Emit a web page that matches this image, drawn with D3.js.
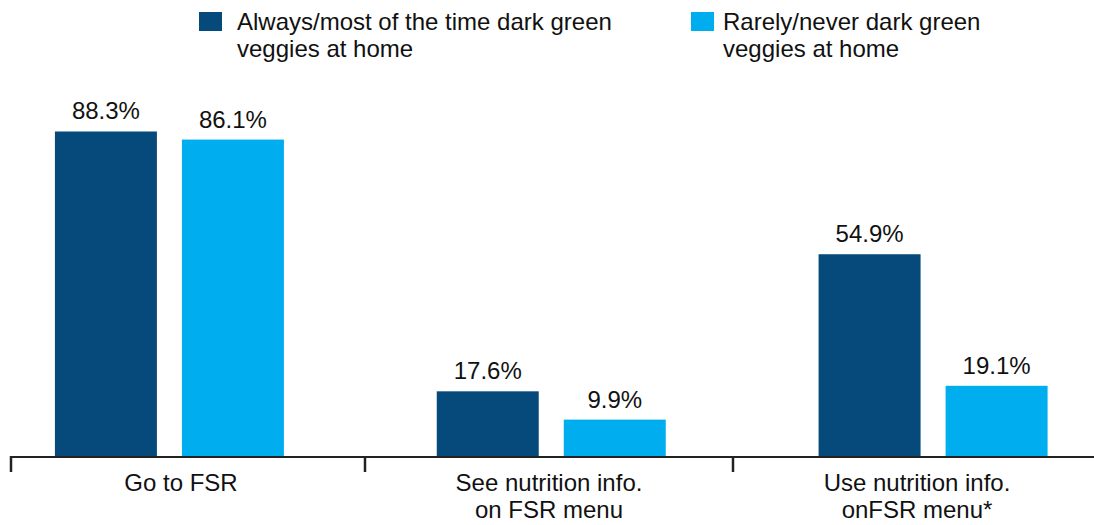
<!DOCTYPE html>
<html><head><meta charset="utf-8">
<script src="https://cdn.jsdelivr.net/npm/d3@7"></script>
<style>
html,body{margin:0;padding:0;background:#fff;}
text{font-family:"Liberation Sans",Arial,Helvetica,sans-serif;fill:#111;}
</style></head>
<body><svg id="c" width="1094" height="525"></svg>
<script>
const categories = [["Go to FSR"], ["See nutrition info.", "on FSR menu"], ["Use nutrition info.", "onFSR menu*"]];
const seriesNames = [["Always/most of the time dark green", "veggies at home"], ["Rarely/never dark green", "veggies at home"]];
const alwaysValues = [88.3, 17.6, 54.9];
const rarelyValues = [86.1, 9.9, 19.1];
const colors = ["#054a7b", "#00aeef"];

const svg = d3.select("#c");
const keys = categories.map((d, i) => "c" + i);
const x = d3.scaleBand().domain(keys).range([-21.5, 1124]).paddingInner(0).paddingOuter(0);
const xInner = d3.scaleBand().domain([0, 1]).range([x.bandwidth()/2 - 114.5, x.bandwidth()/2 + 114.5]).paddingInner(0.197).paddingOuter(0);
const y = d3.scaleLinear().domain([0, 100]).range([456, 88.5]);
const xAxisScale = d3.scaleBand().domain(keys).range([-3, 1101]);
const axisStart = 11;

const data = keys.map((k, i) => ({k, vals: [alwaysValues[i], rarelyValues[i]]}));
const g = svg.selectAll("g.grp").data(data).join("g").attr("class", "grp")
  .attr("transform", d => `translate(${x(d.k)},0)`);
g.selectAll("rect").data(d => d.vals.map((v, j) => ({v, j}))).join("rect")
  .attr("x", d => xInner(d.j)).attr("width", xInner.bandwidth())
  .attr("y", d => y(d.v)).attr("height", d => y(0) - y(d.v))
  .attr("fill", d => colors[d.j]);
g.selectAll("text.val").data(d => d.vals.map((v, j) => ({v, j}))).join("text").attr("class", "val")
  .attr("x", d => xInner(d.j) + xInner.bandwidth()/2).attr("y", d => y(d.v) - 12)
  .attr("text-anchor", "middle").attr("font-size", 24)
  .text(d => d.v.toFixed(1) + "%");

// axis
const ax = svg.append("g");
ax.append("line").attr("x1", axisStart - 1).attr("x2", 1094).attr("y1", 457).attr("y2", 457)
  .attr("stroke", "#222").attr("stroke-width", 2);
const tickX = keys.map((k, i) => i === 0 ? axisStart : xAxisScale(k));
ax.selectAll("line.tick").data(tickX).join("line").attr("class", "tick")
  .attr("x1", d => d).attr("x2", d => d)
  .attr("y1", 456).attr("y2", 472).attr("stroke", "#222").attr("stroke-width", 2.5);
ax.selectAll("text.cat").data(keys).join("text").attr("class", "cat")
  .attr("text-anchor", "middle").attr("font-size", 24)
  .attr("transform", d => `translate(${xAxisScale(d) + xAxisScale.bandwidth()/2},0)`)
  .each(function(d, i) {
    d3.select(this).selectAll("tspan").data(categories[i]).join("tspan")
      .attr("x", 0).attr("y", (t, j) => 491 + j * 27).text(t => t);
  });

// legend
const legX = [199, 691];
const legTextDx = [38, 32];
const lg = svg.selectAll("g.leg").data(seriesNames).join("g").attr("class", "leg")
  .attr("transform", (d, i) => `translate(${legX[i]},12)`);
lg.append("rect").attr("width", 23).attr("height", 19).attr("fill", (d, i) => colors[i]);
lg.append("text").attr("font-size", 24).each(function(d, i) {
  d3.select(this).selectAll("tspan").data(d).join("tspan")
    .attr("x", legTextDx[i]).attr("y", (t, j) => 18 + j * 27).text(t => t);
});
</script></body></html>
